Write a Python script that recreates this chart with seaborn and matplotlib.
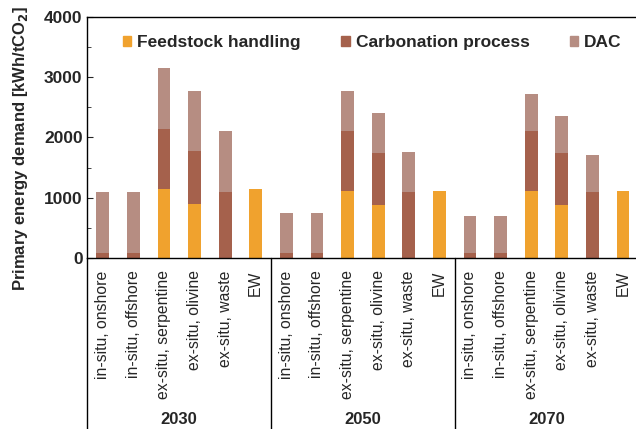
import pandas as pd
import seaborn as sns
import matplotlib.pyplot as plt
from matplotlib.patches import Patch
from matplotlib.ticker import MultipleLocator

# data (kWh/tCO2)
years = ['2030', '2050', '2070']
routes = ['in-situ, onshore', 'in-situ, offshore', 'ex-situ, serpentine',
          'ex-situ, olivine', 'ex-situ, waste', 'EW']

feedstock_2030 = [0, 0, 1150, 900, 0, 1150]
carbonation_2030 = [75, 75, 995, 870, 1095, 0]
dac_2030 = [1015, 1015, 1015, 1010, 1015, 0]

feedstock_2050 = [0, 0, 1105, 870, 0, 1105]
carbonation_2050 = [75, 75, 1005, 870, 1095, 0]
dac_2050 = [670, 670, 665, 665, 670, 0]

feedstock_2070 = [0, 0, 1105, 870, 0, 1105]
carbonation_2070 = [75, 75, 1005, 870, 1095, 0]
dac_2070 = [615, 615, 605, 610, 615, 0]

colors = {'Feedstock handling': '#F0A22E',
          'Carbonation process': '#A5614C',
          'DAC': '#B68D82'}

rows = []
for yr, f, c, d in zip(years,
                       [feedstock_2030, feedstock_2050, feedstock_2070],
                       [carbonation_2030, carbonation_2050, carbonation_2070],
                       [dac_2030, dac_2050, dac_2070]):
    for r, fv, cv, dv in zip(routes, f, c, d):
        rows.append({'key': yr + '|' + r, 'year': yr, 'route': r,
                     'Feedstock handling': fv, 'Carbonation process': cv, 'DAC': dv})
df = pd.DataFrame(rows)
# cumulative heights for stacking (drawn back to front)
df['c1'] = df['Feedstock handling']
df['c2'] = df['c1'] + df['Carbonation process']
df['c3'] = df['c2'] + df['DAC']

sns.set_style('ticks')
plt.rcParams['font.family'] = ['Liberation Sans', 'DejaVu Sans']

fig = plt.figure(figsize=(6.36, 4.29), dpi=100)
# right edge of the frame is cut off in the original
ax = fig.add_axes([0.1375, 0.399, 0.866, 0.561])

order = list(df['key'])
for col, name in [('c3', 'DAC'), ('c2', 'Carbonation process'), ('c1', 'Feedstock handling')]:
    sns.barplot(data=df, x='key', y=col, order=order, color=colors[name],
                saturation=1, width=0.42, linewidth=0, ax=ax)

ax.set_xlim(-0.5, len(order) - 0.5)
ax.set_ylim(0, 4000)
ax.yaxis.set_major_locator(MultipleLocator(1000))
ax.yaxis.set_minor_locator(MultipleLocator(500))
ax.tick_params(axis='y', which='both', direction='in', labelsize=12.5)
ax.tick_params(axis='y', which='major', length=4)
ax.tick_params(axis='y', which='minor', length=3)
for t in ax.get_yticklabels():
    t.set_fontweight('bold')

ax.set_xticks(range(len(order)))
ax.set_xticklabels(list(df['route']), rotation=90, fontsize=11.3)
ax.tick_params(axis='x', length=0, pad=9)
ax.set_xlabel('')
ax.set_ylabel('Primary energy demand [kWh/tCO$_\\mathbf{2}$]', fontsize=12,
              fontweight='bold')
ax.yaxis.set_label_coords(-0.105, 0.455)

for s in ax.spines.values():
    s.set_linewidth(1.0)
    s.set_color('black')
ax.spines['right'].set_visible(False)

# group separators and year labels below the axis
trans = ax.get_xaxis_transform()
for i in range(len(years)):
    xpos = i * len(routes) - 0.5
    ax.plot([xpos, xpos], [0, -0.72], transform=trans, color='black',
            lw=1.0, clip_on=False)
for i, yr in enumerate(years):
    ax.text(i * len(routes) + 2.5, -0.672, yr, transform=trans, ha='center',
            va='center', fontsize=12, fontweight='bold')

handles = [Patch(color=colors[n], label=n) for n in
           ['Feedstock handling', 'Carbonation process', 'DAC']]
ax.legend(handles=handles, loc='upper center', bbox_to_anchor=(0.517, 0.99),
          ncol=3, frameon=False, handlelength=0.5, handleheight=0.5,
          handletextpad=0.35, columnspacing=2.3,
          prop={'weight': 'bold', 'size': 12.5})

fig.savefig('out.png', dpi=100)
